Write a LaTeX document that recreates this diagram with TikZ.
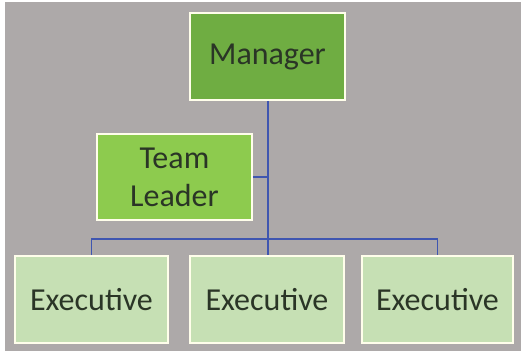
\documentclass[tikz,border=0pt]{standalone}
\usepackage{fontspec}
\setmainfont{Carlito}
\definecolor{bg}{HTML}{ADA9A9}
\definecolor{mgr}{HTML}{6FAD42}
\definecolor{tl}{HTML}{8DCB4E}
\definecolor{exe}{HTML}{C6E0B4}
\definecolor{txt}{HTML}{2A3526}
\definecolor{conn}{HTML}{3F56B0}
\begin{document}
\begin{tikzpicture}[x=1pt,y=-1pt,
  box/.style={draw=white!92!yellow, line width=1.8pt, text=txt, inner sep=0pt,
    font=\fontsize{32}{38}\selectfont, align=center},
  link/.style={draw=conn, line width=1.3pt}]
\useasboundingbox (0,0) rectangle (521,351);
\fill[white] (0,0) rectangle (521,351);
\fill[bg] (5,2) rectangle (521,351);
\node[box, fill=mgr, minimum width=155pt, minimum height=87pt] (m) at (267.5,56.5) {Manager};
\node[box, fill=tl, minimum width=155pt, minimum height=86pt] (t) at (174.5,177) {Team\\Leader};
\node[box, fill=exe, minimum width=153pt, minimum height=87pt] (e1) at (91.5,299.5) {Executive};
\node[box, fill=exe, minimum width=154pt, minimum height=87pt] (e2) at (267,299.5) {Executive};
\node[box, fill=exe, minimum width=151pt, minimum height=87pt] (e3) at (437.5,299.5) {Executive};
\coordinate (bus) at (268,239);
\draw[link] (m.south -| bus) -- (e2.north -| bus);
\draw[link] (t.east) -- (t.east -| bus);
\draw[link] (e1.north) -- (e1.north |- bus) -- (e3.north |- bus) -- (e3.north);
\end{tikzpicture}
\end{document}
